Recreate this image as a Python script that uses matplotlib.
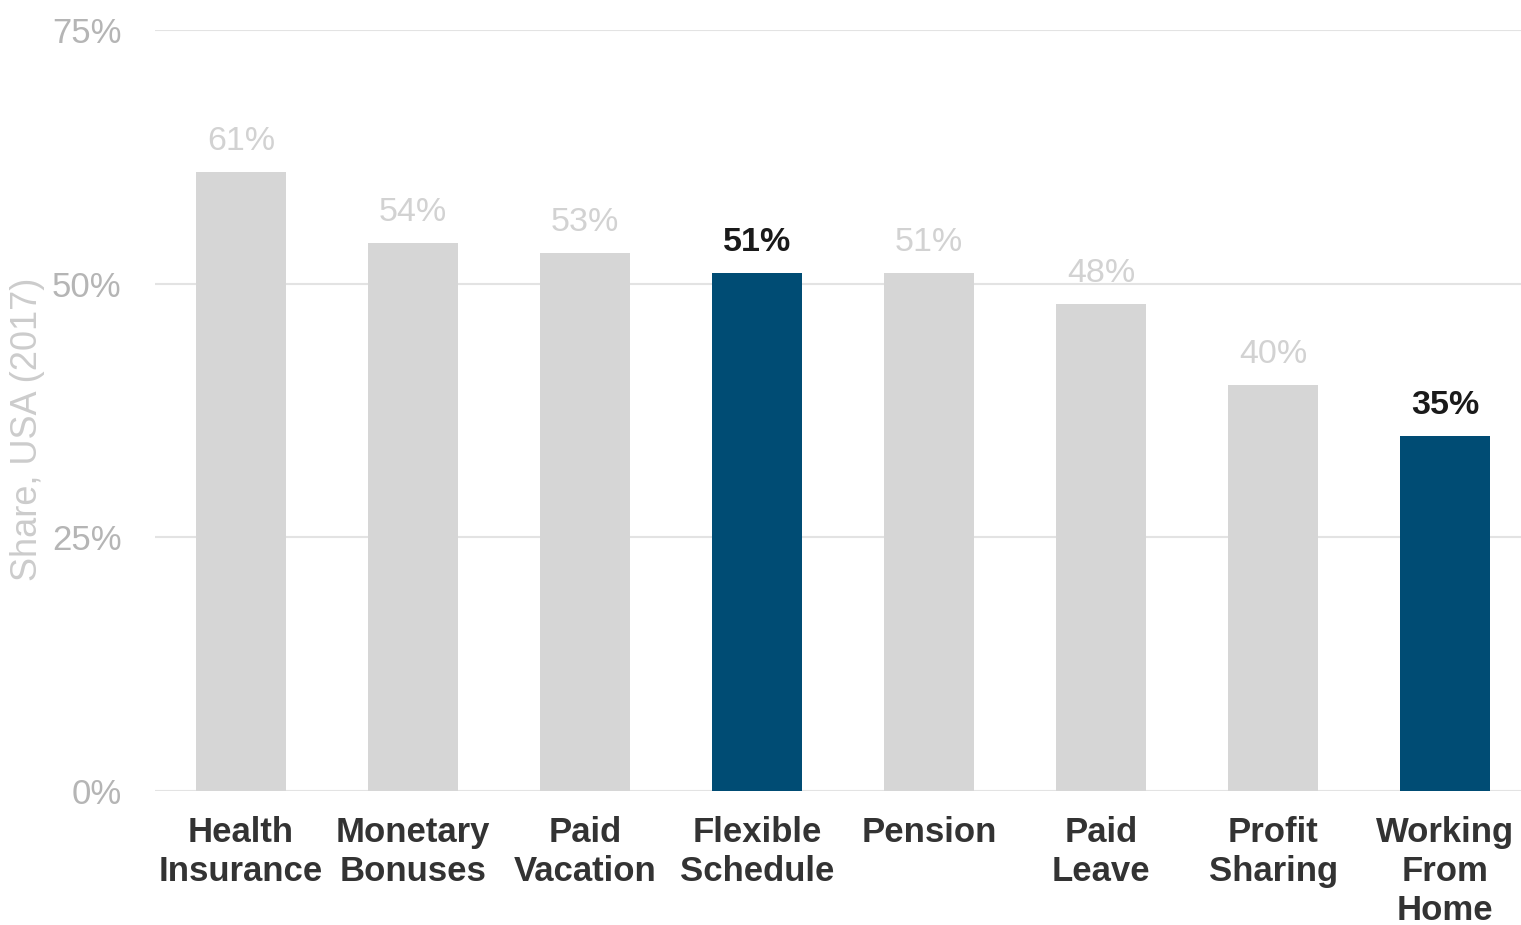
import matplotlib
matplotlib.use("Agg")
import matplotlib.pyplot as plt
from matplotlib.ticker import FuncFormatter

plt.rcParams['font.family'] = ['Liberation Sans', 'DejaVu Sans']

# data
categories = ['Health\nInsurance', 'Monetary\nBonuses', 'Paid\nVacation', 'Flexible\nSchedule',
              'Pension', 'Paid\nLeave', 'Profit\nSharing', 'Working\nFrom\nHome']
shares = [61, 54, 53, 51, 51, 48, 40, 35]
highlight = [False, False, False, True, False, False, False, True]
yticks = [0, 25, 50, 75]

grey = '#d6d6d6'
blue = '#004c74'

fig = plt.figure(figsize=(15.21, 9.25), dpi=100)
ax = fig.add_axes([0.1019, 0.1449, 0.8981, 0.8227])

x = list(range(len(categories)))
colors = [blue if h else grey for h in highlight]
ax.bar(x, shares, width=0.525, color=colors, zorder=2)

for xi, v, h in zip(x, shares, highlight):
    if h:
        ax.text(xi, v + 1.5, f'{v}%', ha='center', va='bottom', fontsize=24.5,
                fontweight='bold', color='#1a1a1a')
    else:
        ax.text(xi, v + 1.5, f'{v}%', ha='center', va='bottom', fontsize=24.5,
                color='#d2d2d2')

ax.set_xlim(-0.5, 7.44)
ax.set_ylim(0, 75)
ax.set_yticks(yticks)
ax.yaxis.set_major_formatter(FuncFormatter(lambda v, p: f'{int(v)}%'))
ax.set_xticks(x)
ax.set_xticklabels(categories, fontsize=25, fontweight='bold', color='#333333',
                   linespacing=1.24)
ax.tick_params(axis='x', length=0, pad=18)
ax.tick_params(axis='y', length=0, pad=24, labelsize=25, labelcolor='#b5b5b5')
ax.grid(axis='y', color='#e3e3e3', linewidth=1.5, zorder=0)
for s in ax.spines.values():
    s.set_visible(False)
ax.axhline(0, color='#e0e0e0', linewidth=2, zorder=1)

fig.text(0.018, 0.536, 'Share, USA (2017)', rotation=90, ha='center', va='center',
         fontsize=26, color='#cccccc')

fig.savefig('out.png', dpi=100)
